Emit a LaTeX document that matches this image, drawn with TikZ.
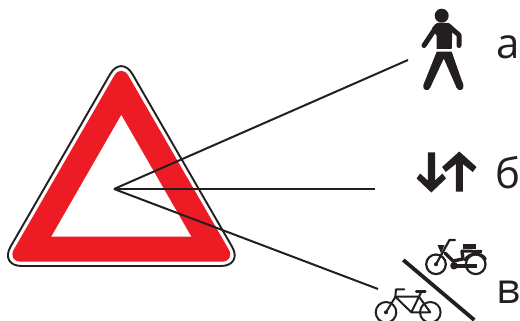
\documentclass[tikz,border=0pt]{standalone}
\usepackage{fontspec}
\setmainfont{Open Sans}
\usepackage{tikz}
\definecolor{signred}{HTML}{ED1C24}
\definecolor{inkblack}{HTML}{231F20}

\begin{document}
\begin{tikzpicture}[x=1pt, y=-1pt, inkblack,
    main/.style = {anchor=base, inner sep=0pt, font=\fontsize{42}{42}\selectfont},
    leader/.style = {draw=inkblack, line width=2pt},
    icon/.style = {draw=inkblack, line width=2pt, line cap=round, line join=round}]
            \useasboundingbox (0,0) rectangle (520,321);

            % sign
            \draw[line width=1.9pt, rounded corners=22.3pt] (121.3,54.8) -- (243.2,266) -- (-0.6,266) -- cycle;
            \fill[signred, rounded corners=14.4pt] (121.3,63.4) -- (235.8,261.7) -- (6.8,261.7) -- cycle;
            \fill[white] (121.3,115) -- (191.3,236.7) -- (51.3,236.7) -- cycle;

            \coordinate (hub) at (114,189);
            \coordinate (walkEnd) at (408,60);
            \coordinate (arrowEnd) at (375,189);
            \coordinate (cycleEnd) at (378,289);

            \path[leader] (hub) edge (walkEnd);
            \path[leader, line width=1.4pt] (hub) edge (arrowEnd);
            \path[leader] (hub) edge (cycleEnd);

            % pedestrian
            \fill (441.7,15.7) circle (7);
            \fill (436.7,49) -- (451.7,49) -- (452.5,26) -- (448,23) -- (437,23) -- (432,28) -- (436.7,36) -- cycle;
            \draw[icon, line width=5pt] (437,26) -- (424,45.5);
            \draw[icon, line width=5pt] (448,25.5) -- (459,35) -- (459,45.5);
            \fill (436.7,51.7) -- (451.7,51.7) -- (463.3,85) -- (456.7,88) -- (443.8,58.5) -- (430,88) -- (423.4,85) -- cycle;
            \draw[icon, line width=7pt] (428,83) -- (426.7,86.7);
            \draw[icon, line width=7pt] (459,83) -- (460,86.7);

            % two arrows
            \fill (427.8,152.3) -- (435,152.3) -- (435,180.5) -- (442.5,173.5) -- (446,178.5) -- (431.3,192.5) -- (416.6,178.5) -- (420.1,173.5) -- (427.8,180.5) -- cycle;
            \fill (455.8,191.5) -- (462.8,191.5) -- (462.8,164) -- (472.8,172) -- (476.5,167) -- (459.3,151.5) -- (442.1,167) -- (445.8,172) -- (455.8,164) -- cycle;

            % moped
            \draw[icon, line width=2.2pt] (436,264.3) circle (9.8);
            \draw[icon, line width=2.2pt] (475.7,264.3) circle (9.8);
            \fill (436,264.3) circle (2);
            \fill (454,265.7) circle (3.8);
            \draw[icon, line width=2.2pt] (436,264.3) -- (449.5,240) -- (455,240);
            \fill (437.5,245) -- (444.5,245) -- (441,253) -- cycle;
            \draw[icon, line width=3.4pt] (445,253) -- (453,261) -- (463,259) -- (462,251);
            \draw[icon, line width=4pt, line cap=butt] (457,265.7) -- (476.5,265.7);
            \fill (462.7,243.5) rectangle (476,249);
            \draw[icon, line width=3pt, line cap=butt] (462,251) -- (482,251.5);
            \draw[icon, line width=2.6pt] (465,260) .. controls (469,252) and (482,252) .. (485.5,259);

            % slash
            \coordinate (slashTop) at (403.3,260);
            \coordinate (slashEnd) at (474.3,320);
            \path[leader, line width=3.8pt] (slashTop) edge (slashEnd);

            % bicycle
            \draw[icon] (386,312.3) circle (10.3);
            \draw[icon] (430.3,312.3) circle (10.3);
            \fill (386,312.3) circle (2);
            \draw[icon] (386,312.3) -- (395.3,297) -- (396,289.3) -- (404.3,289.3);
            \draw[icon] (395.3,296.7) -- (419,296.7) -- (430.3,312.3) -- (411.3,312.3) -- cycle;
            \draw[icon] (421.3,292) -- (411.3,312.3);
            \draw[icon, line width=2.6pt] (416.3,291.7) -- (425.3,291.7);

            \node[main] (a) at (508,58.3) {а};
            \node[main] (b) at (508,188.3) {б};
            \node[main] (v) at (508,303) {в};
        \end{tikzpicture}
\end{document}
